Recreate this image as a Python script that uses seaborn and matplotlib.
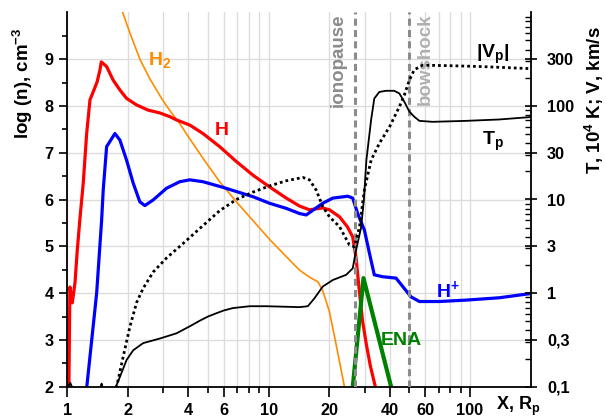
import matplotlib
matplotlib.use("Agg")
import matplotlib.pyplot as plt
import seaborn as sns
from matplotlib.ticker import FixedLocator, FixedFormatter, NullFormatter, LogLocator

# ---------------- data ----------------
# H (neutral hydrogen), log n
h_x = [1.018, 1.030, 1.045, 1.058, 1.075, 1.092, 1.121, 1.156, 1.200, 1.248,
       1.296, 1.345, 1.408, 1.453, 1.475, 1.568, 1.69, 1.825, 1.97, 2.21,
       2.52, 2.88, 3.23, 3.49, 4.06, 4.72, 5.71, 6.92, 8.36, 10.1,
       12.24, 14.25, 15.97, 18.52, 20.06, 22.5, 24.6, 26.18, 27.2, 28.3,
       29.3, 30.6, 32.0, 33.9, 34.6]
h_n = [1.9, 4.13, 3.95, 3.79, 4.0, 4.22, 4.92, 5.6, 6.35, 7.41,
       8.13, 8.30, 8.52, 8.77, 8.94, 8.84, 8.55, 8.34, 8.16, 8.02,
       7.91, 7.85, 7.77, 7.70, 7.59, 7.41, 7.13, 6.81, 6.52, 6.27,
       6.03, 5.86, 5.78, 5.82, 5.78, 5.63, 5.42, 5.2, 4.75, 4.0,
       3.4, 2.9, 2.45, 2.0, 1.85]

# H2, log n
h2_x = [1.85, 1.883, 2.046, 2.293, 2.57, 2.93, 3.23, 3.62, 3.91, 4.72,
        5.71, 6.92, 8.36, 10.1, 12.24, 14.25, 15.97, 17.6, 18.58, 20.06,
        21.65, 23.8, 24.2]
h2_n = [10.2, 10.0, 9.56, 9.0, 8.58, 8.17, 7.90, 7.62, 7.40, 6.88,
        6.38, 5.95, 5.55, 5.15, 4.78, 4.49, 4.34, 4.24, 4.05, 3.6,
        2.9, 2.0, 1.9]

# H+, log n
hp_x = [1.243, 1.399, 1.481, 1.508, 1.568, 1.628, 1.724, 1.825, 1.97, 2.125,
        2.293, 2.428, 2.67, 3.11, 3.62, 4.06, 4.72, 5.93, 6.92, 8.36,
        10.1, 12.24, 14.25, 15.38, 18.58, 20.84, 24.73, 26.18, 27.7, 29.9,
        31.7, 33.5, 36.9, 42.96, 47.2, 51.0, 56.1, 70.4, 95.5, 139.7, 200]
hp_n = [1.9, 4.0, 5.56, 6.2, 7.13, 7.24, 7.41, 7.27, 6.84, 6.35,
        5.95, 5.87, 5.99, 6.24, 6.38, 6.42, 6.38, 6.26, 6.17, 6.06,
        5.92, 5.81, 5.70, 5.67, 5.92, 6.03, 6.07, 6.03, 5.70, 5.35,
        4.85, 4.39, 4.35, 4.32, 4.10, 3.92, 3.82, 3.82, 3.85, 3.90, 3.99]

# ENA, log n
ena_x = [26.06, 29.6, 41.15]
ena_n = [1.9, 4.32, 1.9]

# Tp, 10^4 K (right axis)
tp_x = [1.0, 1.02, 1.035, 1.05, 1.08, 1.42, 1.465, 1.48, 1.495, 1.55,
        1.70, 1.743, 1.825, 1.97, 2.125, 2.38, 2.88, 3.49, 4.06, 4.55,
        5.0, 5.51, 6.0, 6.65, 8.05, 9.74, 11.78, 14.25, 15.66, 16.9,
        18.58, 20.84, 24.28, 26.18, 27.2, 28.8, 29.75, 30.6, 32.3, 33.5,
        35.5, 38.3, 42.1, 44.6, 47.2, 50.0, 52.9, 56.1, 65.3, 95.5,
        139.7, 200]
tp_v = [0.09, 0.105, 0.11, 0.102, 0.09, 0.09, 0.1, 0.108, 0.1, 0.09,
        0.095, 0.1, 0.127, 0.193, 0.245, 0.292, 0.327, 0.372, 0.442, 0.507,
        0.562, 0.61, 0.653, 0.692, 0.724, 0.724, 0.716, 0.708, 0.724, 0.881,
        1.175, 1.38, 1.567, 1.84, 2.88, 5.01, 10.0, 26.3, 70.8, 120,
        141, 145, 145, 136, 111, 87.1, 76.7, 69.2, 67.6, 69.2,
        71.6, 76.0]

# |Vp|, km/s (right axis)
v_x = [1.70, 1.758, 1.895, 2.046, 2.21, 2.38, 2.67, 3.11, 3.76, 4.55,
       5.71, 6.92, 8.36, 10.1, 12.24, 14.8, 15.97, 17.24, 18.58, 20.06,
       22.5, 25.2, 26.7, 28.3, 29.9, 32.3, 35.5, 39.97, 44.6, 47.2,
       50.0, 52.9, 58.2, 78.9, 115.5, 200]
v_v = [0.085, 0.1, 0.209, 0.437, 0.794, 1.122, 1.679, 2.37, 3.39, 4.90,
       7.59, 10.0, 12.0, 13.96, 15.85, 17.2, 16.2, 12.6, 8.41, 6.53,
       5.13, 3.27, 3.13, 5.13, 12.6, 26.3, 39.8, 60.3, 97.7, 130,
       188, 243, 272, 269, 263, 250]

ionopause_x = 27.0
bowshock_x = 50.0

x_major = [1, 2, 4, 6, 10, 20, 40, 60, 100]
x_major_labels = ["1", "2", "4", "6", "10", "20", "40", "60", "100"]
x_minor = [3, 5, 7, 8, 9, 30, 50, 70, 80, 90]
yl_major = [2, 3, 4, 5, 6, 7, 8, 9]
yr_major = [0.1, 10 ** -0.5, 1, 10 ** 0.5, 10, 10 ** 1.5, 100, 10 ** 2.5]
yr_labels = ["0,1", "0,3", "1", "3", "10", "30", "100", "300"]

# ---------------- style ----------------
sns.set_theme(style="ticks", rc={
    "axes.edgecolor": "black", "xtick.color": "black", "ytick.color": "black",
    "text.color": "black", "axes.labelcolor": "black",
})
plt.rcParams["font.family"] = ["Liberation Sans", "DejaVu Sans"]
plt.rcParams["font.weight"] = "bold"
plt.rcParams["axes.labelweight"] = "bold"
plt.rcParams["mathtext.fontset"] = "custom"
plt.rcParams["mathtext.rm"] = "Liberation Sans:bold"
plt.rcParams["mathtext.it"] = "Liberation Sans:bold"
plt.rcParams["mathtext.bf"] = "Liberation Sans:bold"
plt.rcParams["mathtext.sf"] = "Liberation Sans:bold"

W, H = 606, 419
fig = plt.figure(figsize=(W / 100, H / 100), dpi=100)
L, R, T, B = 67.3, 530.5, 12.3, 386.7
ax = fig.add_axes([L / W, 1 - B / H, (R - L) / W, (B - T) / H])
ax.set_xscale("log")
ax.set_xlim(1, 200)
ax.set_ylim(2, 10)
ax2 = ax.twinx()
ax2.set_yscale("log")
ax2.set_ylim(0.1, 1000)

grid_c = "#dcdcdc"
ax.set_axisbelow(True)
ax.xaxis.set_major_locator(FixedLocator(x_major))
ax.xaxis.set_major_formatter(FixedFormatter(x_major_labels))
ax.xaxis.set_minor_locator(FixedLocator(x_minor))
ax.xaxis.set_minor_formatter(NullFormatter())
ax.yaxis.set_major_locator(FixedLocator(yl_major))
ax.yaxis.set_minor_locator(FixedLocator([v + 0.5 for v in yl_major]))
ax.grid(True, which="both", axis="x", color=grid_c, lw=1)
ax.grid(True, which="major", axis="y", color=grid_c, lw=1)

ax2.yaxis.set_major_locator(FixedLocator(yr_major))
ax2.yaxis.set_major_formatter(FixedFormatter(yr_labels))
ax2.yaxis.set_minor_locator(LogLocator(base=10, subs=range(2, 10), numticks=20))
ax2.yaxis.set_minor_formatter(NullFormatter())

for s in ["top", "right"]:
    ax.spines[s].set_visible(False)
for s in ["top", "left", "bottom"]:
    ax2.spines[s].set_visible(False)
for s in ["left", "bottom"]:
    ax.spines[s].set_linewidth(1.3)
ax2.spines["right"].set_linewidth(1.3)

ax.tick_params(axis="x", which="major", length=7, width=1.2, pad=5, labelsize=11.7, direction="out")
ax.tick_params(axis="x", which="minor", length=4, width=1.2, direction="out")
ax.tick_params(axis="y", which="major", length=6, width=1.2, pad=4, labelsize=11.7, direction="out")
ax.tick_params(axis="y", which="minor", length=3.5, width=1.2, direction="out")
ax2.tick_params(axis="y", which="major", length=8, width=1.2, pad=8, labelsize=11.7, direction="inout")
ax2.tick_params(axis="y", which="minor", length=4, width=1.0, direction="in")

# ---------------- lines ----------------
sns.lineplot(x=h2_x, y=h2_n, ax=ax, color="#ff8c00", lw=1.2, estimator=None, sort=False)
sns.lineplot(x=h_x, y=h_n, ax=ax, color="#ff0000", lw=2.3, estimator=None, sort=False)
sns.lineplot(x=hp_x, y=hp_n, ax=ax, color="#0000ff", lw=2.3, estimator=None, sort=False)
ax.axvline(ionopause_x, color="#8c8c8c", lw=2.2, ls=(0, (2.3, 1.4)), zorder=3)
ax.axvline(bowshock_x, color="#8c8c8c", lw=2.2, ls=(0, (2.3, 1.4)), zorder=3)
sns.lineplot(x=ena_x, y=ena_n, ax=ax, color="#008000", lw=3.0, estimator=None, sort=False)

sns.lineplot(x=tp_x, y=tp_v, ax=ax2, color="black", lw=1.3, estimator=None, sort=False)
sns.lineplot(x=v_x, y=v_v, ax=ax2, color="black", lw=2.0, ls=(0, (1, 1.1)),
             estimator=None, sort=False)

# ---------------- texts ----------------
fs = 14
ax.text(2.51, 8.87, r"H$_{2}$", color="#ff8c00", fontsize=fs, ha="left", va="baseline")
ax.text(5.40, 7.38, "H", color="#ff0000", fontsize=fs, ha="left", va="baseline")
ax.text(68.1, 3.92, r"H$^{+}$", color="#0000ff", fontsize=fs, ha="left", va="baseline")
ax.text(36.2, 2.89, "ENA", color="#008000", fontsize=fs, ha="left", va="baseline")
ax.text(107, 9.02, r"|V$_{p}$|", color="black", fontsize=fs, ha="left", va="baseline")
ax.text(114.7, 7.16, r"T$_{p}$", color="black", fontsize=fs, ha="left", va="baseline")
ax.text(22.2, 9.98, "ionopause", color="#8c8c8c", fontsize=13.5, rotation=90,
        ha="center", va="top")
ax.text(60.0, 9.98, "bowshock", color="#b0b0b0", fontsize=13.5, rotation=90,
        ha="center", va="top")

ax.set_xlabel("")
ax2.set_xlabel("")
ax.set_ylabel(r"log (n), cm$^{-3}$", fontsize=13.5)
ax.yaxis.set_label_coords(-0.069, 0.81)
ax2.set_ylabel(r"T, 10$^{4}$ K; V, km/s", fontsize=13.5)
ax2.yaxis.set_label_coords(1.113, 0.766)
ax.text(134.6, -0.052, r"X, R$_{\mathregular{p}}$", fontsize=13, ha="left", va="center",
        transform=ax.get_xaxis_transform(), clip_on=False)

fig.savefig("out.png", dpi=100)
